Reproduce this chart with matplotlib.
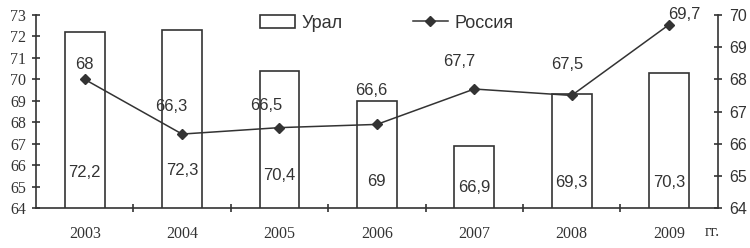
import matplotlib
matplotlib.use("Agg")
import matplotlib.pyplot as plt
from matplotlib.patches import Patch
from matplotlib.lines import Line2D
import matplotlib.transforms as mtransforms

years = ["2003", "2004", "2005", "2006", "2007", "2008", "2009"]
ural = [72.2, 72.3, 70.4, 69.0, 66.9, 69.3, 70.3]
russia = [68.0, 66.3, 66.5, 66.6, 67.7, 67.5, 69.7]
left_ticks = [64, 65, 66, 67, 68, 69, 70, 71, 72, 73]
right_ticks = [64, 65, 66, 67, 68, 69, 70]

# style: label placement
bar_label_y = [65.68, 65.77, 65.5, 65.26, 64.98, 65.2, 65.17]
line_label_off = [(0, 15), (-11, 28), (-13, 22), (-6, 34), (-15, 28), (-4, 31), (15, 10)]

def fmt(v):
    s = ("%.1f" % v).rstrip("0").rstrip(".")
    return s.replace(".", ",")

C = "#333333"
fig = plt.figure(figsize=(7.5, 2.48), dpi=100)
ax = fig.add_axes([0.048, 0.161, 0.909, 0.7785])
x = list(range(len(years)))

ax.bar(x, ural, width=0.41, bottom=0, color="white", edgecolor=C, linewidth=1.2, zorder=2)
ax.set_ylim(64, 73)
ax.set_xlim(-0.5, 6.5)
ax.set_yticks(left_ticks)
ax.set_yticklabels([str(t) for t in left_ticks], family="Liberation Serif", fontsize=11.5, color=C)
ax.set_xticks(x)
ax.set_xticklabels(years, family="Liberation Serif", fontsize=11.5, color=C)
ax.set_xticks([i + 0.5 for i in x[:-1]], minor=True)
ax.tick_params(axis="x", which="major", length=0, pad=13)
ax.tick_params(axis="x", which="minor", direction="inout", length=6, width=1.2, color=C)
ax.tick_params(axis="y", direction="inout", length=6, width=1.2, color=C, pad=4)
for s in ["top", "right"]:
    ax.spines[s].set_visible(False)
for s in ["left", "bottom"]:
    ax.spines[s].set_color(C)
    ax.spines[s].set_linewidth(1.2)

for xi, v, ly in zip(x, ural, bar_label_y):
    ax.text(xi, ly, fmt(v), ha="center", va="center", family="Liberation Sans", fontsize=12, color=C, zorder=5)

ax2 = ax.twinx()
ax2.set_ylim(64, 70)
ax2.set_yticks(right_ticks)
ax2.set_yticklabels([str(t) for t in right_ticks], family="Liberation Sans", fontsize=11.5, color=C)
ax2.tick_params(axis="y", direction="inout", length=6, width=1.2, color=C, pad=5)
for s in ["top", "left", "bottom"]:
    ax2.spines[s].set_visible(False)
ax2.spines["right"].set_color(C)
ax2.spines["right"].set_linewidth(1.2)
ax2.plot(x, russia, color=C, linewidth=1.1, marker="D", markersize=5.5, zorder=4)
for xi, v, off in zip(x, russia, line_label_off):
    ax2.annotate(fmt(v), (xi, v), xytext=off, textcoords="offset pixels", ha="center", va="center",
                 family="Liberation Sans", fontsize=12, color=C)

trans = mtransforms.blended_transform_factory(ax.transData, fig.transFigure)
ax.text(6.44, 1 - 232 / 248, "гг.", transform=trans, ha="center", va="center",
        family="Liberation Serif", fontsize=11.5, color=C)

handles = [Patch(facecolor="white", edgecolor=C, linewidth=1.2),
           Line2D([], [], color=C, linewidth=1.1, marker="D", markersize=5.5)]
ax2.legend(handles, ["Урал", "Россия"], loc="center", bbox_to_anchor=(0.515, 0.958), ncol=2,
           frameon=False, prop={"family": "Liberation Sans", "size": 13}, handlelength=1.9,
           handleheight=0.7, columnspacing=3.9, handletextpad=0.4, labelcolor=C, borderaxespad=0)

fig.savefig("out.png", dpi=100)
